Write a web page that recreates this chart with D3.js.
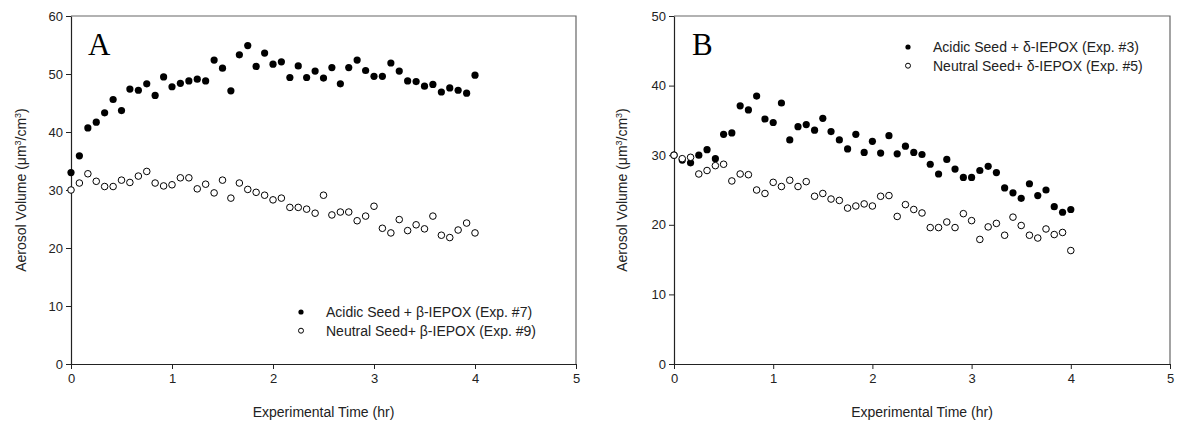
<!DOCTYPE html>
<html>
<head>
<meta charset="utf-8">
<script src="https://cdn.jsdelivr.net/npm/d3@7"></script>
<style>
  body { margin: 0; background: #fff; }
  svg { display: block; font-family: "Liberation Sans", Arial, sans-serif; }
</style>
</head>
<body>
<svg id="chart" width="1177" height="425"></svg>
<script>
// sampling times (hr), every 5 min
var timeHr = [0, 0.083, 0.167, 0.25, 0.333, 0.417, 0.5, 0.583, 0.667, 0.75, 0.833, 0.917,
  1, 1.083, 1.167, 1.25, 1.333, 1.417, 1.5, 1.583, 1.667, 1.75, 1.833, 1.917,
  2, 2.083, 2.167, 2.25, 2.333, 2.417, 2.5, 2.583, 2.667, 2.75, 2.833, 2.917,
  3, 3.083, 3.167, 3.25, 3.333, 3.417, 3.5, 3.583, 3.667, 3.75, 3.833, 3.917, 4];

// panel A: beta-IEPOX
var acidicBeta = [33.0, 35.9, 40.7, 41.7, 43.3, 45.6, 43.7, 47.4, 47.2, 48.3, 46.3, 49.5,
  47.8, 48.4, 48.8, 49.1, 48.8, 52.4, 51.0, 47.1, 53.3, 54.9, 51.3, 53.6,
  51.7, 52.1, 49.4, 51.4, 49.4, 50.5, 49.3, 51.1, 48.3, 51.1, 52.4, 50.6,
  49.6, 49.6, 51.9, 50.5, 48.8, 48.7, 47.9, 48.2, 46.9, 47.6, 47.2, 46.7, 49.8];
var neutralBeta = [30.0, 31.2, 32.8, 31.5, 30.6, 30.6, 31.7, 31.3, 32.4, 33.2, 31.2, 30.7,
  30.9, 32.1, 32.1, 30.2, 31.0, 29.5, 31.7, 28.6, 31.2, 30.1, 29.6, 29.1,
  28.3, 28.6, 27.0, 27.0, 26.7, 26.0, 29.1, 25.7, 26.2, 26.2, 24.7, 25.5,
  27.2, 23.4, 22.6, 24.9, 23.0, 24.0, 23.3, 25.5, 22.2, 21.8, 23.1, 24.3, 22.6];

// panel B: delta-IEPOX
var acidicDelta = [30.0, 29.3, 28.9, 30.0, 30.8, 29.5, 33.0, 33.2, 37.1, 36.5, 38.5, 35.2,
  34.7, 37.5, 32.2, 34.1, 34.4, 33.6, 35.3, 33.4, 32.2, 30.9, 33.0, 30.4,
  32.0, 30.3, 32.8, 30.2, 31.3, 30.4, 30.1, 28.7, 27.3, 29.4, 28.0, 26.8,
  26.8, 27.8, 28.4, 27.5, 25.3, 24.6, 23.8, 25.9, 24.2, 25.0, 22.6, 21.8, 22.2];
var neutralDelta = [30.0, 29.5, 29.7, 27.3, 27.8, 28.5, 28.7, 26.3, 27.3, 27.2, 25.0, 24.5,
  26.1, 25.5, 26.4, 25.5, 26.2, 24.1, 24.5, 23.7, 23.5, 22.4, 22.7, 23.0,
  22.7, 24.1, 24.2, 21.2, 22.9, 22.2, 21.7, 19.6, 19.6, 20.4, 19.6, 21.6,
  20.6, 17.9, 19.7, 20.2, 18.5, 21.1, 19.9, 18.5, 18.1, 19.4, 18.6, 18.9, 16.3];

var xTicks = [0, 1, 2, 3, 4, 5];
var yTicksA = [0, 10, 20, 30, 40, 50, 60];
var yTicksB = [0, 10, 20, 30, 40, 50];
var legendA = ['Acidic Seed + \u03b2-IEPOX (Exp. #7)', 'Neutral Seed+ \u03b2-IEPOX (Exp. #9)'];
var legendB = ['Acidic Seed + \u03b4-IEPOX (Exp. #3)', 'Neutral Seed+ \u03b4-IEPOX (Exp. #5)'];

var svg = d3.select('#chart');

function panel(opt) {
  var g = svg.append('g');
  var x = d3.scaleLinear().domain([0, 5]).range([opt.left, opt.right]);
  var y = d3.scaleLinear().domain([0, opt.yMax]).range([opt.bottom, opt.top]);

  // frame (top + right)
  g.append('path')
    .attr('d', 'M' + opt.left + ',' + opt.top + 'H' + opt.right + 'V' + opt.bottom)
    .attr('fill', 'none')
    .attr('stroke', '#666')
    .attr('stroke-width', 1.2);

  var xAxis = g.append('g')
    .attr('transform', 'translate(0,' + opt.bottom + ')')
    .call(d3.axisBottom(x).tickValues(xTicks).tickSize(5).tickSizeOuter(0).tickFormat(d3.format('d')));
  var yAxis = g.append('g')
    .attr('transform', 'translate(' + opt.left + ',0)')
    .call(d3.axisLeft(y).tickValues(opt.yTicks).tickSize(5).tickSizeOuter(0).tickFormat(d3.format('d')));
  [xAxis, yAxis].forEach(function(a) {
    a.select('.domain').attr('stroke', '#222').attr('stroke-width', 1.2);
    a.selectAll('.tick line').attr('stroke', '#222');
    a.selectAll('.tick text')
      .attr('fill', '#222')
      .style('font-family', '"Liberation Sans", Arial, sans-serif')
      .style('font-size', '13px');
  });
  xAxis.selectAll('.tick text').attr('y', 10);
  yAxis.selectAll('.tick text').attr('x', -8);

  // axis titles
  g.append('text')
    .attr('x', (opt.left + opt.right) / 2)
    .attr('y', 417)
    .attr('text-anchor', 'middle')
    .style('font-size', '14px')
    .attr('fill', '#222')
    .text('Experimental Time (hr)');

  var yt = g.append('text')
    .attr('transform', 'translate(' + opt.yTitleX + ',' + ((opt.top + opt.bottom) / 2) + ') rotate(-90)')
    .attr('text-anchor', 'middle')
    .style('font-size', '14px')
    .attr('fill', '#222');
  yt.append('tspan').text('Aerosol Volume (\u03bcm');
  yt.append('tspan').attr('baseline-shift', 'super').style('font-size', '9px').text('3');
  yt.append('tspan').text('/cm');
  yt.append('tspan').attr('baseline-shift', 'super').style('font-size', '9px').text('3');
  yt.append('tspan').text(')');

  // panel letter
  g.append('text')
    .attr('x', opt.letterX)
    .attr('y', 55)
    .style('font-family', '"Liberation Serif", "Times New Roman", serif')
    .style('font-size', '31px')
    .attr('fill', '#000')
    .text(opt.letter);

  // filled series first, open (white filled) on top
  g.append('g').selectAll('circle')
    .data(opt.filled)
    .join('circle')
    .attr('cx', function(d, i) { return x(timeHr[i]); })
    .attr('cy', function(d) { return y(d); })
    .attr('r', 3.6)
    .attr('fill', '#000');
  g.append('g').selectAll('circle')
    .data(opt.open)
    .join('circle')
    .attr('cx', function(d, i) { return x(timeHr[i]); })
    .attr('cy', function(d) { return y(d); })
    .attr('r', 3.3)
    .attr('fill', '#fff')
    .attr('stroke', '#000')
    .attr('stroke-width', 1);

  // legend
  var lg = g.append('g').attr('transform', 'translate(' + opt.legendX + ',' + opt.legendY + ')');
  opt.legend.forEach(function(label, i) {
    var row = lg.append('g').attr('transform', 'translate(0,' + (i * 18.7) + ')');
    if (i === 0) {
      row.append('circle').attr('r', 2.6).attr('fill', '#000');
    } else {
      row.append('circle').attr('r', 2.5).attr('fill', '#fff').attr('stroke', '#000').attr('stroke-width', 1);
    }
    row.append('text')
      .attr('x', 25)
      .attr('y', 5)
      .style('font-size', '14px')
      .attr('fill', '#222')
      .text(label);
  });
}

panel({
  left: 71, right: 576, top: 16, bottom: 364, yMax: 60, yTicks: yTicksA,
  filled: acidicBeta, open: neutralBeta, legend: legendA,
  legendX: 301, legendY: 312, letter: 'A', letterX: 88, yTitleX: 26
});
panel({
  left: 674, right: 1170, top: 16, bottom: 364, yMax: 50, yTicks: yTicksB,
  filled: acidicDelta, open: neutralDelta, legend: legendB,
  legendX: 908, legendY: 47, letter: 'B', letterX: 692, yTitleX: 627
});
</script>
</body>
</html>
